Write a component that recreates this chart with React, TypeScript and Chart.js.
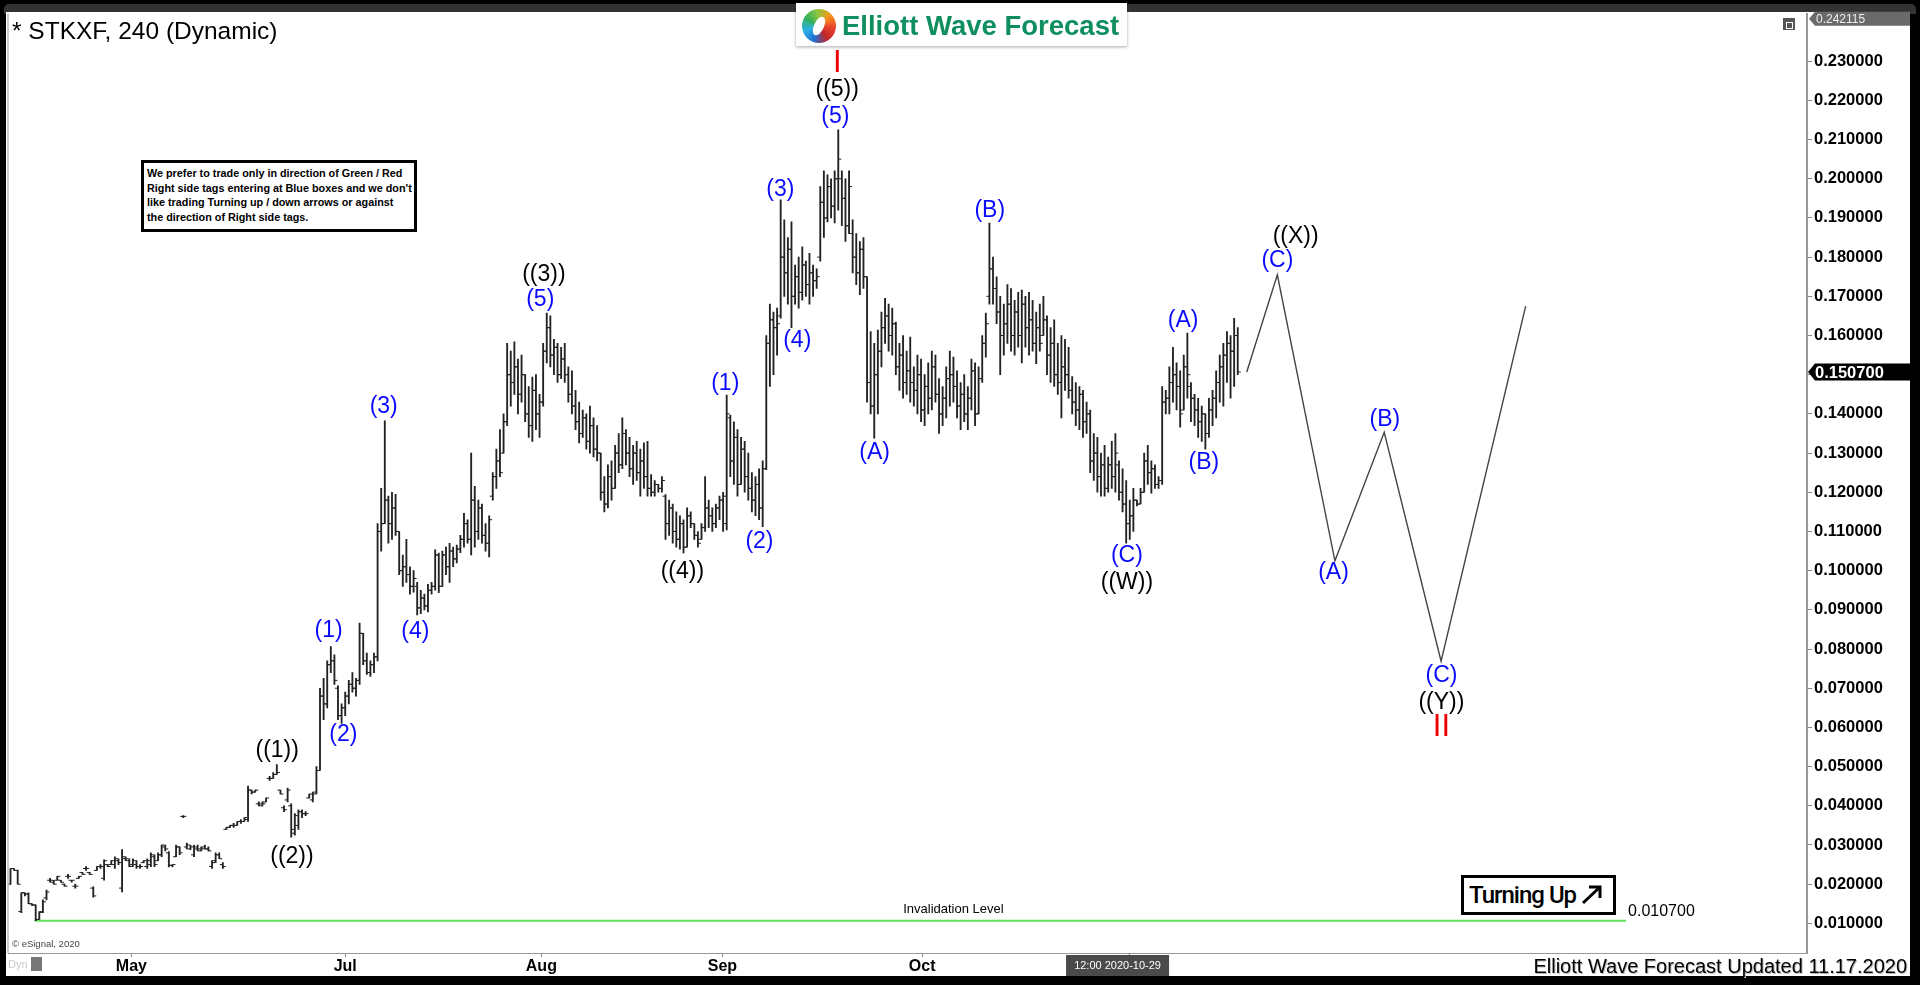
import React, { useEffect, useRef } from "react";
import { Chart, registerables } from "chart.js";
Chart.register(...registerables);

const FONT = '"Liberation Sans", Arial, sans-serif';

// OHLC values in thousandths of a dollar (bar index = position in array)
const H = [
  24, 24, 23.6, 17.8, 17.8, 17.8, 15, 14.7, 13, 16,
  18.5, 21.5, 21, 22, 21, 20, 22.5, 21, 20, 22,
  23, 24.5, 23, 19.3, 24.5, 25, 26.2, 25, 26, 27,
  26.5, 28.8, 27, 26.5, 26.5, 26, 25, 26, 26.5, 28,
  27.5, 28, 30, 30, 28.3, 25, 30, 29.5, 37.5, 30.5,
  30, 30, 30, 29.5, 30, 29.5, 26, 28, 28, 25.5,
  34.5, 35, 35.5, 36, 36.5, 37, 45, 44, 44, 41,
  41, 42, 47.5, 48.5, 50.5, 44, 40, 44.5, 40.5, 38,
  39, 39, 38.5, 43, 43.5, 50, 70, 72.5, 77, 80.6,
  78.5, 70.6, 66, 69, 72, 74, 72.5, 86.6, 84, 79,
  77, 79, 112, 121, 138.2, 119, 120, 119.5, 110, 104,
  108, 101, 100, 97, 95, 94, 96.5, 97, 105.3, 104.5,
  105, 106, 107, 106, 106.5, 109, 114.6, 113, 130, 121.5,
  118, 117, 112, 114, 125, 131, 136, 140, 158, 156,
  158.4, 154, 155, 150, 147, 149.4, 150, 145, 158, 165.7,
  165, 159, 158, 157, 158, 152, 151, 146, 143, 141,
  140, 142, 139, 137, 130, 124, 127, 128, 132, 135,
  139, 136, 134, 132, 133, 131, 132.6, 133, 124.5, 123,
  122, 124, 119.4, 118, 117, 115, 114, 113, 116, 115,
  112, 110, 112, 124, 118, 116, 117, 119, 120, 144.8,
  139.7, 138, 136, 134, 133, 130, 125, 124, 126, 128,
  160, 168, 166, 167, 194.6, 189.5, 185, 189, 178, 180,
  182.6, 179, 181, 178, 177, 198, 202, 201, 200, 202,
  212.5, 202, 200, 202, 189.5, 186, 184, 185, 175, 161,
  158, 161.4, 166, 169.5, 168, 167, 163.4, 158, 160, 156,
  159.6, 152, 155, 154, 150, 153, 156, 155, 149, 147,
  152, 156, 154.5, 151, 148, 150, 147, 154, 153, 152,
  160, 165.7, 188.7, 180, 175, 170, 168, 173, 172, 169,
  171, 171.6, 170, 171, 169, 166, 168, 170, 165, 162,
  164, 158, 160, 159, 157, 149.5, 148, 147, 146, 143,
  141, 135, 134, 130, 132, 129, 133, 135, 128, 126,
  123, 118, 121, 118, 121, 130, 132, 128, 127, 124,
  147, 146, 152, 157, 153, 151, 155, 160.6, 148, 145,
  144, 142, 140, 144, 146, 151, 155, 158, 161, 160,
  164.4, 162,
];
const L = [
  20, 23.5, 20, 12.7, 17, 15, 14.5, 10.7, 11, 12.7,
  16, 20.5, 20, 21, 20.5, 19.5, 21.5, 20.5, 19, 21.5,
  22.5, 23.5, 22.5, 16.7, 23.5, 24, 21, 24.5, 25, 24,
  25, 18, 26, 24.5, 24.5, 24, 24, 25.5, 24, 24.5,
  24.5, 26, 27, 28.5, 24.4, 24.4, 27, 27.5, 37, 29,
  28.8, 27, 28.5, 28.5, 29, 28.5, 24, 25.5, 26.5, 24,
  34, 34.5, 34.5, 35, 35.5, 36, 36, 43, 43.5, 40,
  40, 41, 46.5, 47, 48, 43, 38.5, 41, 32, 32.5,
  34, 37, 37.5, 42, 41, 43, 49, 62, 65, 74,
  71, 62, 61, 63, 66, 69, 68, 71, 76, 73.5,
  73, 74, 77, 105, 112, 107, 108, 109, 99, 96,
  97, 94, 94.5, 88.7, 89, 90, 89.5, 94, 95, 94.4,
  96, 99, 97, 101, 102, 104.6, 106, 107, 104, 106,
  108, 107, 105, 103.5, 118, 121, 124, 130, 137, 142,
  145, 140, 143, 138, 134, 133, 136, 134, 142, 153,
  152, 150, 148, 149, 148, 143, 140, 136, 132.6, 134,
  131, 130, 129, 128, 118, 115, 116, 118, 121, 125,
  126, 127, 124, 122, 123, 119, 121, 119, 119, 119,
  120, 120, 108, 109, 107, 106, 105.5, 104.5, 106, 111,
  108, 106, 108, 110, 111, 110, 111, 113, 110, 110.4,
  124, 122, 119, 122, 120, 118, 115, 114, 113, 111.2,
  125.8, 147, 150, 155, 164.4, 170, 168, 162, 168, 167,
  169, 170, 168, 170, 172, 179, 185, 189, 190, 188.7,
  192, 188, 184, 186, 176, 173, 170.4, 172, 143, 140,
  133.8, 140, 152, 158, 156, 155, 150, 146, 144, 145,
  143, 142, 140, 138, 137, 140, 141, 143, 135, 137,
  139, 142, 143, 139, 136, 138, 136, 141, 137, 140,
  148, 154.5, 168, 168, 163, 150, 155, 158, 156, 155,
  157, 153, 157, 155, 156, 152.8, 156, 160, 150, 148,
  147, 145, 139, 146, 144, 140, 137, 136, 134, 135,
  125, 123, 120, 119, 119, 120, 121, 120, 118, 115,
  107, 108, 110, 116.5, 117, 120, 122, 119.8, 121, 121,
  122, 140, 140, 143, 141, 136.6, 141, 144, 138, 137,
  134, 133, 131, 134, 137, 139, 143, 142, 148, 144,
  147, 150,
];
const O = [
  20, 24, 23.5, 13, 17.8, 17.5, 15, 14.7, 11, 13,
  16.5, 21, 20.5, 21, 21, 20, 22, 21, 19.5, 21.5,
  23, 24, 23, 19, 23.5, 24.5, 21.5, 25, 25, 25,
  26, 19, 26.5, 26, 25, 25, 24.5, 25.5, 24.5, 25,
  27, 26, 27.5, 29.5, 28, 24.8, 27, 29.5, 37.3, 29.5,
  29, 27.5, 29, 28.5, 29.5, 29, 24.5, 26, 27.5, 25,
  34, 34.5, 35, 35, 36, 36, 36.5, 44, 43.5, 40.5,
  40, 41, 47, 47, 48, 44, 39.5, 41.5, 40, 33,
  35, 38.5, 38, 42, 41.5, 43.5, 49, 68, 66, 76,
  77, 70, 63, 65, 68, 71, 70, 72, 84, 77,
  74, 76, 78, 110, 112, 118, 112, 116, 110, 100,
  101, 99, 96, 96, 90.5, 93, 91, 95, 96, 104,
  96, 104, 101, 105, 103, 105.5, 108, 112, 108, 118,
  110, 116, 109, 107, 119, 124, 128, 130, 138, 150,
  148, 152, 145, 150, 140, 137, 146, 140, 143, 156,
  162, 155, 157, 150, 154, 150, 145, 142, 138, 135,
  139, 133, 137, 131, 130, 120, 117, 124, 121, 130,
  127, 135, 130, 126, 130, 125, 128, 124, 121, 120,
  122, 121, 119, 112, 116, 110, 108, 112, 106, 114,
  112, 109, 108, 111, 116, 114, 112, 116, 118, 112,
  139, 128, 134, 122, 131, 124, 121, 118, 122, 116,
  126, 158, 164, 162, 165, 180, 176, 182, 170, 175,
  171, 178, 173, 176, 174, 180, 194, 190, 198, 193,
  200, 200, 195, 188, 186, 180, 176, 182, 175, 148,
  142, 150, 156, 162, 165, 160, 163, 152, 155, 148,
  151, 148, 146, 150, 141, 147, 144, 152, 145, 140,
  144, 149, 150, 147, 142, 145, 140, 144, 151, 140,
  149, 158, 170, 177, 172, 166, 160, 163, 168, 160,
  166, 160, 168, 162, 164, 158, 162, 160, 164, 155,
  158, 150, 148, 152, 150, 146, 143, 141, 145, 138,
  140, 128, 130, 124, 127, 121, 127, 124, 127, 120,
  117, 112, 114, 118, 117, 120, 128, 125, 126, 122,
  123, 143, 144, 148, 150, 147, 141, 152, 147, 144,
  141, 138, 140, 135, 141, 144, 148, 152, 155, 158,
  156, 160,
];
const C = [
  24, 23.5, 20, 17.8, 17.5, 15, 14.7, 11, 12.8, 15.5,
  18, 21, 20, 22, 20.5, 19.5, 22, 21, 19.5, 22,
  22.5, 24, 22.5, 17, 24.5, 24.5, 26, 24.5, 26, 26.5,
  25.5, 27, 26.5, 24.5, 26, 24.5, 24.5, 26, 26, 27.5,
  25, 27.5, 30, 29, 24.8, 25, 29.5, 28, 37.3, 30,
  29.5, 29.5, 29, 29, 29, 28.5, 25.5, 27.5, 26.5, 24.5,
  34.5, 35, 35, 36, 36, 37, 44, 43.5, 44, 40.5,
  40.5, 42, 47, 48, 48.5, 43, 39, 44, 34, 37.5,
  38.5, 38, 38, 43, 43, 49, 68, 66, 76, 77,
  72, 63, 65, 68, 71, 70, 72, 84, 77, 74,
  76, 78, 110, 112, 118, 112, 116, 110, 100, 101,
  99, 96, 98, 90.5, 93, 91, 95, 96, 104, 96,
  104, 101, 105, 103, 105.5, 108, 112, 108, 118, 110,
  116, 109, 107, 113, 124, 128, 125, 138, 150, 148,
  152, 145, 150, 140, 137, 146, 140, 143, 156, 162,
  155, 157, 150, 154, 150, 145, 142, 138, 135, 139,
  133, 137, 131, 130, 120, 117, 124, 121, 130, 127,
  135, 130, 126, 130, 125, 128, 124, 121, 120, 122,
  121, 123, 112, 116, 110, 108, 112, 106, 114, 112,
  109, 107, 111, 116, 114, 112, 116, 118, 119, 140,
  128, 134, 122, 131, 124, 121, 118, 122, 116, 126,
  158, 164, 162, 163, 180, 176, 182, 170, 175, 171,
  178, 173, 176, 174, 175, 194, 190, 198, 193, 200,
  205, 195, 188, 198, 180, 176, 182, 175, 148, 142,
  150, 156, 162, 165, 160, 163, 152, 155, 148, 151,
  148, 146, 150, 141, 147, 144, 152, 145, 140, 144,
  149, 150, 147, 142, 145, 140, 144, 151, 140, 149,
  158, 163, 177, 172, 166, 160, 163, 168, 160, 166,
  160, 168, 162, 164, 158, 162, 158, 164, 155, 158,
  150, 148, 152, 150, 146, 143, 141, 145, 138, 140,
  128, 130, 124, 127, 121, 127, 124, 130, 120, 117,
  112, 114, 118, 117, 120, 128, 125, 126, 122, 123,
  143, 144, 148, 150, 147, 140, 152, 150, 144, 141,
  138, 140, 135, 141, 144, 148, 152, 155, 158, 156,
  160, 150.7,
];

// Forecast path (bar index, thousandths)
const PATH_X = [343.5, 352, 368, 381.7, 397.5, 421];
const PATH_Y = [150.7, 175.5, 102.5, 135.3, 76.9, 167.5];

// Invalidation level
const INVALID_LEVEL = 0.0107;
const INVALID_FROM = 6.7;
const INVALID_TO = 448.9;
const INVALID_TEXT = "Invalidation Level";
const INVALID_TEXT_X = 262;

// Axes
const X_MIN = -0.556;
const X_MAX = 499.17;
const Y_MIN = 0.00244;
const Y_MAX = 0.242115;
const MONTH_POS = [33.6, 93, 147.5, 197.8, 253.3];
const MONTH_LABELS = ["May", "Jul", "Aug", "Sep", "Oct"];
const Y_TICKS = [
  0.01, 0.02, 0.03, 0.04, 0.05, 0.06, 0.07, 0.08, 0.09, 0.1, 0.11, 0.12,
  0.13, 0.14, 0.15, 0.16, 0.17, 0.18, 0.19, 0.2, 0.21, 0.22, 0.23,
];
const LAST_PRICE = 0.1507;
const CROSS_X = 310.8;
const CROSS_LABEL = "12:00 2020-10-29";

// Wave labels
const LABEL_TEXT = [
  "I", "((5))", "(5)", "(3)", "(4)", "(1)", "(2)", "((4))", "((3))", "(5)",
  "(3)", "(4)", "(1)", "(2)", "((1))", "((2))", "(A)", "(B)", "(C)", "((W))",
  "(A)", "(B)", "((X))", "(C)", "(A)", "(B)", "(C)", "((Y))", "II",
];
const LABEL_X = [
  229.7, 229.7, 229.2, 213.9, 218.6, 198.6, 208.1, 186.7, 148.2, 147.2,
  103.7, 112.5, 88.4, 92.5, 74.1, 78.2, 240.1, 272.1, 310.2, 310.2,
  325.8, 331.6, 357.1, 352.0, 367.6, 381.9, 397.6, 397.6, 397.6,
];
const LABEL_Y = [
  229.4, 222.8, 215.9, 197.2, 158.8, 147.8, 107.5, 99.7, 175.6, 169.1,
  141.9, 84.4, 84.7, 58.1, 54.1, 26.9, 130.0, 191.9, 103.8, 96.9,
  163.8, 127.5, 185.3, 179.1, 99.4, 138.5, 73.1, 66.3, 60.0,
];
// 0 = black, 1 = blue, 2 = red
const LABEL_KIND = [
  2, 0, 1, 1, 1, 1, 1, 0, 0, 1,
  1, 1, 1, 1, 0, 0, 1, 1, 1, 0,
  1, 1, 0, 1, 1, 1, 1, 0, 2,
];
const KIND_COLORS = ["#000000", "#0a0aff", "#ee0000"];

const annotate = {
  id: "annotate",
  afterDatasetsDraw(chart: any) {
    const { ctx } = chart;
    const xs = chart.scales.x;
    const ys = chart.scales.y;
    ctx.save();
    ctx.textAlign = "center";
    ctx.textBaseline = "middle";
    LABEL_TEXT.forEach((t, k) => {
      const kind = LABEL_KIND[k];
      ctx.font = kind === 2 ? `31px ${FONT}` : `23px ${FONT}`;
      ctx.fillStyle = KIND_COLORS[kind];
      ctx.fillText(t, xs.getPixelForValue(LABEL_X[k]), ys.getPixelForValue(LABEL_Y[k] / 1000));
    });
    const yl = ys.getPixelForValue(INVALID_LEVEL);
    ctx.fillStyle = "#000";
    ctx.font = `13px ${FONT}`;
    ctx.fillText(INVALID_TEXT, xs.getPixelForValue(INVALID_TEXT_X), yl - 11);
    ctx.textAlign = "left";
    ctx.font = `16px ${FONT}`;
    ctx.fillText(INVALID_LEVEL.toFixed(6), xs.getPixelForValue(INVALID_TO) + 2, yl - 9);
    ctx.restore();
  },
  afterDraw(chart: any) {
    const { ctx, chartArea } = chart;
    const xs = chart.scales.x;
    const ys = chart.scales.y;
    ctx.save();
    ctx.strokeStyle = "#999";
    ctx.lineWidth = 1;
    ctx.beginPath();
    ctx.moveTo(chartArea.left - 0.5, chartArea.top);
    ctx.lineTo(chartArea.left - 0.5, chartArea.bottom);
    ctx.stroke();
    const right = chartArea.right;
    const yp = ys.getPixelForValue(LAST_PRICE);
    ctx.fillStyle = "#000";
    ctx.beginPath();
    ctx.moveTo(right + 1, yp);
    ctx.lineTo(right + 8, yp - 8.5);
    ctx.lineTo(chart.width, yp - 8.5);
    ctx.lineTo(chart.width, yp + 8.5);
    ctx.lineTo(right + 8, yp + 8.5);
    ctx.closePath();
    ctx.fill();
    ctx.fillStyle = "#fff";
    ctx.font = `bold 16.5px ${FONT}`;
    ctx.textAlign = "left";
    ctx.textBaseline = "middle";
    ctx.fillText(LAST_PRICE.toFixed(6), right + 8, yp + 1);
    const yt = ys.getPixelForValue(Y_MAX) + 5;
    ctx.fillStyle = "#6a6a6a";
    ctx.beginPath();
    ctx.moveTo(right + 2, yt);
    ctx.lineTo(right + 8, yt - 7);
    ctx.lineTo(chart.width, yt - 7);
    ctx.lineTo(chart.width, yt + 7);
    ctx.lineTo(right + 8, yt + 7);
    ctx.closePath();
    ctx.fill();
    ctx.fillStyle = "#eee";
    ctx.font = `12px ${FONT}`;
    ctx.fillText(Y_MAX.toFixed(6), right + 9, yt + 1);
    const cx = xs.getPixelForValue(CROSS_X);
    ctx.strokeStyle = "#888";
    ctx.beginPath();
    ctx.moveTo(Math.round(cx) + 0.5, chartArea.bottom);
    ctx.lineTo(Math.round(cx) + 0.5, chartArea.bottom + 4);
    ctx.stroke();
    const top = chartArea.bottom + 2;
    ctx.fillStyle = "#4a4a4a";
    ctx.fillRect(cx - 63, top, 103, 21);
    ctx.fillStyle = "#fff";
    ctx.font = `11px ${FONT}`;
    ctx.textAlign = "center";
    ctx.fillText(CROSS_LABEL, cx - 11.5, top + 11);
    ctx.restore();
  },
};

export default function App() {
  const ref = useRef<HTMLCanvasElement>(null);
  useEffect(() => {
    Chart.defaults.font.family = FONT;
    const bars = H.map((h, i) => ({ x: i, y: [L[i] / 1000, h / 1000] }));
    const opens = O.map((o, i) => ({ x: i - 0.42, y: o / 1000 }));
    const closes = C.map((c, i) => ({ x: i + 0.42, y: c / 1000 }));
    const path = PATH_X.map((x, i) => ({ x, y: PATH_Y[i] / 1000 }));
    const inval = [
      { x: INVALID_FROM, y: INVALID_LEVEL },
      { x: INVALID_TO, y: INVALID_LEVEL },
    ];
    const chart = new Chart(ref.current as HTMLCanvasElement, {
      type: "bar",
      data: {
        datasets: [
          {
            type: "bar",
            data: bars as any,
            backgroundColor: "#222",
            borderWidth: 0,
            barThickness: 1.2,
            grouped: true,
          } as any,
          {
            type: "scatter",
            data: opens,
            pointStyle: "line",
            pointRadius: 1.5,
            pointBorderWidth: 1,
            pointBorderColor: "#222",
            pointHoverRadius: 0,
          } as any,
          {
            type: "scatter",
            data: closes,
            pointStyle: "line",
            pointRadius: 1.5,
            pointBorderWidth: 1,
            pointBorderColor: "#222",
            pointHoverRadius: 0,
          } as any,
          {
            type: "line",
            data: path,
            borderColor: "#444",
            borderWidth: 1.4,
            pointRadius: 0,
            tension: 0,
          } as any,
          {
            type: "line",
            data: inval,
            borderColor: "#5fe35f",
            borderWidth: 2,
            pointRadius: 0,
          } as any,
        ],
      },
      options: {
        responsive: false,
        animation: false,
        events: [],
        layout: { padding: { left: 2, top: 13.7, right: 0, bottom: 0 } },
        plugins: {
          legend: { display: false },
          tooltip: { enabled: false },
          title: { display: false },
        },
        scales: {
          x: {
            type: "linear",
            min: X_MIN,
            max: X_MAX,
            offset: false,
            afterBuildTicks: (s: any) => {
              s.ticks = MONTH_POS.map((v) => ({ value: v }));
            },
            afterFit: (s: any) => {
              s.height = 23;
              s.paddingLeft = 0;
              s.paddingRight = 0;
            },
            ticks: {
              autoSkip: false,
              maxRotation: 0,
              padding: 0,
              color: "#000",
              font: { family: FONT, size: 16, weight: "bold" },
              callback: (_v: any, idx: number) => MONTH_LABELS[idx],
            },
            grid: { offset: false, drawOnChartArea: false, drawTicks: true, tickLength: 4, color: "#888" },
            border: { display: true, color: "#999", width: 1 },
          },
          y: {
            type: "linear",
            position: "right",
            min: Y_MIN,
            max: Y_MAX,
            afterBuildTicks: (s: any) => {
              s.ticks = Y_TICKS.map((v) => ({ value: v }));
            },
            afterFit: (s: any) => {
              s.width = 103;
              s.paddingTop = 0;
              s.paddingBottom = 0;
            },
            ticks: {
              autoSkip: false,
              padding: 2,
              color: "#000",
              font: { family: FONT, size: 16.5, weight: "bold" },
              callback: (v: any) => Number(v).toFixed(6),
            },
            grid: { drawOnChartArea: false, drawTicks: true, tickLength: 5, color: "#888" },
            border: { display: true, color: "#999", width: 2 },
          },
        },
      } as any,
      plugins: [annotate],
    });
    return () => chart.destroy();
  }, []);

  return (
    <div
      style={{
        position: "fixed",
        left: 0,
        top: 0,
        width: 1920,
        height: 985,
        background: "#000",
        overflow: "hidden",
        fontFamily: FONT,
      }}
    >
      <div style={{ position: "absolute", left: 4, top: 4, width: 1912, height: 10, background: "#333", borderRadius: "5px 5px 0 0" }} />
      <div style={{ position: "absolute", left: 6, top: 12, width: 1904, height: 964, background: "#fff" }} />
      <canvas
        ref={ref}
        width={1904}
        height={976}
        style={{ position: "absolute", left: 6, top: 0, width: 1904, height: 976 }}
      />
      <div style={{ position: "absolute", left: 12, top: 17, fontSize: 24.5, lineHeight: "28px", color: "#000", whiteSpace: "nowrap" }}>
        * STKXF, 240 (Dynamic)
      </div>
      <div
        style={{
          position: "absolute",
          left: 796,
          top: 3,
          width: 331,
          height: 43,
          background: "#fff",
          boxShadow: "0 1px 3px rgba(0,0,0,0.35)",
        }}
      >
        <div
          style={{
            position: "absolute",
            left: 6,
            top: 6,
            width: 34,
            height: 34,
            borderRadius: "50%",
            background:
              "conic-gradient(from 200deg, #1f6fd1, #2bb0e8, #35b25a, #8cc63f, #f7941d, #e8412c, #c0272d, #1f6fd1)",
          }}
        >
          <div style={{ position: "absolute", left: 12, top: 7, width: 10, height: 20, background: "#fff", borderRadius: "50%", transform: "rotate(25deg)" }} />
        </div>
        <div
          style={{
            position: "absolute",
            left: 46,
            top: 7,
            fontSize: 27.5,
            fontWeight: "bold",
            color: "#0f8f5f",
            lineHeight: "32px",
            whiteSpace: "nowrap",
          }}
        >
          Elliott Wave Forecast
        </div>
      </div>
      <div
        style={{
          position: "absolute",
          left: 141,
          top: 160,
          width: 276,
          height: 72,
          boxSizing: "border-box",
          border: "3px solid #000",
          background: "#fff",
          padding: "3px 0 0 3px",
          fontSize: 10.8,
          fontWeight: "bold",
          lineHeight: "14.5px",
          whiteSpace: "nowrap",
          color: "#000",
        }}
      >
        We prefer to trade only in direction of Green / Red
        <br />
        Right side tags entering at Blue boxes and we don't
        <br />
        like trading Turning up / down arrows or against
        <br />
        the direction of Right side tags.
      </div>
      <div
        style={{
          position: "absolute",
          left: 1461,
          top: 875,
          width: 155,
          height: 40,
          boxSizing: "border-box",
          border: "3px solid #000",
          background: "#fff",
          display: "flex",
          alignItems: "center",
          paddingLeft: 5,
        }}
      >
        <span style={{ fontFamily: "Roboto, sans-serif", fontWeight: 500, fontSize: 24, letterSpacing: -1, color: "#000", lineHeight: "26px" }}>
          Turning Up
        </span>
        <svg width="24" height="22" viewBox="0 0 24 22" style={{ marginLeft: 4 }}>
          <path d="M3 19 L20 3 M9 3 L20 3 L20 14" stroke="#000" strokeWidth="3" fill="none" />
        </svg>
      </div>
      <div style={{ position: "absolute", left: 12, top: 938, fontSize: 9.5, color: "#444", whiteSpace: "nowrap" }}>© eSignal, 2020</div>
      <div style={{ position: "absolute", left: 8, top: 958, fontSize: 11, color: "#c8c8c8" }}>Dyn</div>
      <div style={{ position: "absolute", left: 31, top: 957, width: 11, height: 14, background: "#777" }} />
      <div style={{ position: "absolute", left: 1783, top: 18, width: 12, height: 12, background: "#555" }}>
        <div style={{ position: "absolute", left: 3, top: 4, width: 5, height: 5, border: "1px solid #fff" }} />
      </div>
      <div
        style={{
          position: "absolute",
          right: 13,
          top: 955,
          fontSize: 20,
          lineHeight: "22px",
          color: "#000",
          whiteSpace: "nowrap",
          textShadow: "1px 1px 0 #bbb",
        }}
      >
        Elliott Wave Forecast Updated 11.17.2020
      </div>
    </div>
  );
}
